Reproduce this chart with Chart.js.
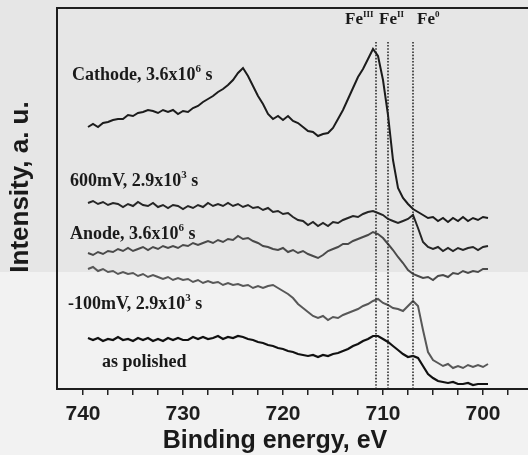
<!DOCTYPE html>
<html>
<head>
<meta charset="utf-8">
<script src="https://cdn.jsdelivr.net/npm/chart.js@4"></script>
<style>
  body { margin: 0; background: #efefef; }
  canvas { display: block; }
</style>
</head>
<body>
<canvas id="xps" width="528" height="455"></canvas>
<script>
// Fe 2p spectra, binding energy in eV (0.5 eV step)
const energy = [739.5, 739, 738.5, 738, 737.5, 737, 736.5, 736, 735.5, 735,
  734.5, 734, 733.5, 733, 732.5, 732, 731.5, 731, 730.5, 730,
  729.5, 729, 728.5, 728, 727.5, 727, 726.5, 726, 725.5, 725,
  724.5, 724, 723.5, 723, 722.5, 722, 721.5, 721, 720.5, 720,
  719.5, 719, 718.5, 718, 717.5, 717, 716.5, 716, 715.5, 715,
  714.5, 714, 713.5, 713, 712.5, 712, 711.5, 711, 710.5, 710,
  709.5, 709, 708.5, 708, 707.5, 707, 706.5, 706, 705.5, 705,
  704.5, 704, 703.5, 703, 702.5, 702, 701.5, 701, 700.5, 700, 699.5];

// intensities (a.u., curves offset as in the figure)
const cathode = [262, 265, 262, 266, 267, 269, 270, 270, 274, 273,
  276, 277, 279, 278, 276, 279, 277, 279, 275, 278,
  277, 281, 283, 287, 290, 293, 297, 300, 304, 309,
  316, 321, 313, 303, 293, 285, 275, 270, 273, 269,
  273, 268, 266, 262, 258, 257, 253, 255, 256, 261,
  270, 279, 290, 301, 312, 320, 330, 340, 333, 309,
  274, 229, 201, 191, 185, 180, 177, 174, 171, 172,
  168, 171, 167, 171, 168, 172, 168, 171, 169, 172, 171];

const mv600 = [186, 188, 185, 187, 184, 186, 185, 182, 185, 183,
  187, 184, 183, 186, 182, 184, 181, 184, 183, 180,
  183, 181, 184, 182, 186, 183, 185, 183, 186, 183,
  185, 182, 184, 181, 182, 179, 181, 177, 178, 175,
  176, 172, 169, 168, 164, 167, 163, 166, 163, 167,
  166, 169, 171, 173, 172, 175, 177, 178, 176, 174,
  170, 168, 166, 168, 170, 174, 161, 147, 142, 140,
  142, 138, 141, 138, 141, 139, 141, 142, 139, 142, 143];

const anode = [136, 134, 137, 135, 138, 137, 140, 138, 141, 138,
  140, 142, 139, 142, 140, 143, 141, 143, 141, 144,
  143, 146, 144, 146, 148, 146, 149, 147, 150, 149,
  153, 150, 151, 148, 146, 143, 142, 140, 139, 141,
  137, 139, 136, 138, 135, 133, 131, 134, 138, 140,
  142, 145, 145, 148, 150, 152, 154, 157, 155, 151,
  145, 139, 132, 126, 119, 115, 113, 111, 112, 109,
  113, 114, 112, 116, 115, 118, 116, 118, 117, 120, 120];

const mvMinus100 = [120, 122, 118, 120, 117, 118, 115, 117, 115, 116,
  113, 115, 112, 114, 112, 110, 112, 109, 111, 109,
  110, 107, 109, 106, 108, 106, 107, 104, 106, 104,
  105, 103, 104, 101, 103, 101, 103, 104, 101, 98,
  95, 91, 85, 81, 77, 73, 71, 73, 69, 72,
  71, 74, 76, 78, 80, 83, 85, 88, 90, 86,
  84, 81, 80, 78, 83, 88, 83, 59, 37, 29,
  26, 23, 25, 21, 23, 21, 24, 22, 24, 22, 25];

const polished = [51, 49, 51, 48, 50, 49, 52, 49, 50, 48,
  51, 49, 51, 48, 50, 48, 51, 49, 51, 49,
  49, 52, 50, 52, 50, 51, 53, 50, 52, 51,
  53, 52, 50, 49, 47, 46, 44, 43, 41, 40,
  38, 37, 35, 34, 33, 34, 32, 34, 33, 35,
  36, 38, 40, 43, 45, 48, 50, 53, 53, 50,
  47, 43, 39, 35, 32, 33, 31, 23, 15, 11,
  8, 7, 6, 7, 5, 5, 6, 4, 5, 5, 5];

// Fe III, Fe II, Fe 0 reference positions
const peakEnergies = [710.7, 709.5, 707.0];
const peakNames = ['III', 'II', '0'];
const xTicks = [740, 737.5, 735, 732.5, 730, 727.5, 725, 722.5, 720, 717.5,
  715, 712.5, 710, 707.5, 705, 702.5, 700, 697.5];

// curve labels: [energy, intensity, text parts]
const curveLabels = [
  [741.1, 314, [['Cathode, 3.6x10'], ['6', 1], [' s']]],
  [741.3, 208, [['600mV, 2.9x10'], ['3', 1], [' s']]],
  [741.3, 155, [['Anode, 3.6x10'], ['6', 1], [' s']]],
  [741.5, 85, [['-100mV, 2.9x10'], ['3', 1], [' s']]],
  [738.1, 27, [['as polished']]]
];

const SERIF = '"Liberation Serif", "Times New Roman", serif';
const SANS = '"Liberation Sans", Arial, sans-serif';

const toXY = arr => energy.map((e, i) => ({ x: e, y: arr[i] }));

function line(data, color, width) {
  return { data: toXY(data), borderColor: color, borderWidth: width,
    pointRadius: 0, tension: 0, fill: false };
}

function drawParts(ctx, parts, x, y, size, supScale) {
  parts.forEach(([t, sup]) => {
    ctx.font = 'bold ' + (sup ? Math.round(size * supScale) : size) + 'px ' + SERIF;
    ctx.fillText(t, x, sup ? y - size * 0.3 : y);
    x += ctx.measureText(t).width;
  });
}

const decor = {
  id: 'decor',
  beforeDraw(chart) {
    const ctx = chart.ctx;
    ctx.save();
    ctx.fillStyle = '#f2f2f2';
    ctx.fillRect(0, 0, chart.width, chart.height);
    ctx.fillStyle = '#e6e6e6';
    ctx.fillRect(0, 0, chart.width, 272);
    ctx.restore();
  },
  afterDraw(chart) {
    const ctx = chart.ctx;
    const a = chart.chartArea;
    const xs = chart.scales.x, ys = chart.scales.y;
    ctx.save();
    // frame (right side is cut off in the figure)
    ctx.strokeStyle = '#1e1e1e';
    ctx.lineWidth = 2;
    ctx.beginPath();
    ctx.moveTo(chart.width, a.top);
    ctx.lineTo(a.left, a.top);
    ctx.lineTo(a.left, a.bottom);
    ctx.lineTo(chart.width, a.bottom);
    ctx.stroke();

    ctx.fillStyle = '#1a1a1a';
    ctx.textBaseline = 'middle';
    ctx.textAlign = 'left';
    curveLabels.forEach(([e, v, parts]) => {
      drawParts(ctx, parts, xs.getPixelForValue(e), ys.getPixelForValue(v), 18, 0.6);
    });
    // Fe labels above the dotted lines
    const feX = [713.8, 710.4, 706.6];
    peakNames.forEach((n, i) => {
      drawParts(ctx, [['Fe'], [n, 1]], xs.getPixelForValue(feX[i]), ys.getPixelForValue(369), 17, 0.55);
    });

    // axis titles
    ctx.textAlign = 'center';
    ctx.textBaseline = 'alphabetic';
    ctx.font = 'bold 25px ' + SANS;
    ctx.fillText('Binding energy, eV', 275, 448);
    ctx.translate(28, 187);
    ctx.rotate(-Math.PI / 2);
    ctx.font = 'bold 26px ' + SANS;
    ctx.fillText('Intensity, a. u.', 0, 0);
    ctx.restore();
  }
};

const dotted = peakEnergies.map(e => ({
  data: [{ x: e, y: 0 }, { x: e, y: 347 }],
  borderColor: '#222', borderWidth: 1.5, borderDash: [1.6, 1.6],
  pointRadius: 0, fill: false
}));

new Chart(document.getElementById('xps'), {
  type: 'line',
  data: {
    datasets: [
      ...dotted,
      line(cathode, '#1c1c1c', 2),
      line(mv600, '#262626', 2),
      line(anode, '#4a4a4a', 2),
      line(mvMinus100, '#585858', 2),
      line(polished, '#111', 2.2)
    ]
  },
  options: {
    responsive: false,
    animation: false,
    layout: { padding: { left: 57, top: 8, right: 0, bottom: 0 } },
    plugins: { legend: { display: false }, tooltip: { enabled: false } },
    scales: {
      x: {
        type: 'linear', reverse: true, min: 695.5, max: 742.6,
        afterBuildTicks: s => { s.ticks = xTicks.map(v => ({ value: v })); },
        afterFit: s => { s.height = 66; },
        border: { display: false },
        grid: { drawOnChartArea: false, drawTicks: true, tickLength: 6,
          color: '#222', lineWidth: 1.5 },
        ticks: {
          autoSkip: false, maxRotation: 0, padding: 7, color: '#1e1e1e',
          font: { family: SANS, size: 21, weight: 'bold' },
          callback: v => (v % 10 === 0 ? String(v) : '')
        }
      },
      y: { display: false, min: 0, max: 381 }
    }
  },
  plugins: [decor]
});
</script>
</body>
</html>
